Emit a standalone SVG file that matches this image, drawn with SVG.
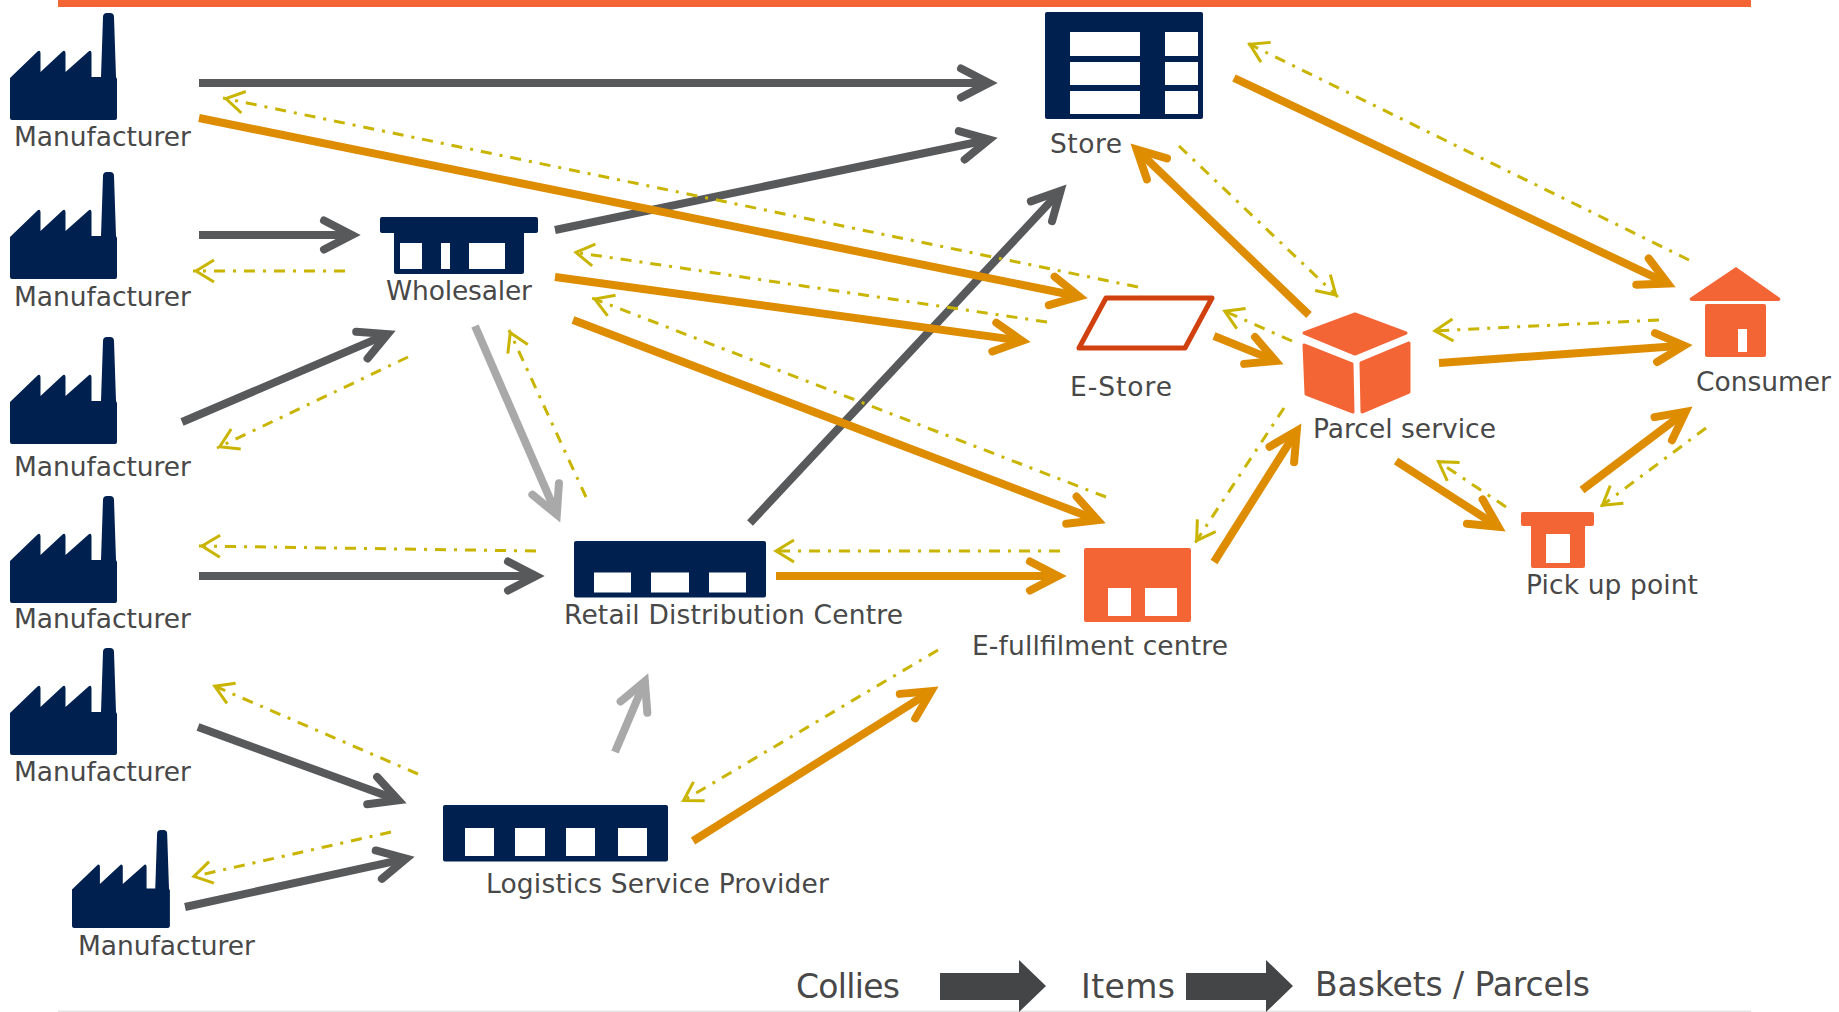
<svg xmlns="http://www.w3.org/2000/svg" width="1839" height="1012" viewBox="0 0 1839 1012">
<style>
text{font-family:"DejaVu Sans",Verdana,sans-serif;font-size:26.500px;fill:#484848}
.big{font-size:33px}
.navy{fill:#002050}.org{fill:#F46536}.w{fill:#fff}
.d,.o,.l,.y{fill:none}
.d{stroke:#58595B;stroke-width:8;marker-end:url(#hd)}
.o{stroke:#DE8C00;stroke-width:8;marker-end:url(#ho)}
.l{stroke:#A9A9A9;stroke-width:8;marker-end:url(#hl)}
.y{stroke:#C9B400;stroke-width:3;stroke-dasharray:11 8 3 8;marker-end:url(#hy)}
</style>
<defs>
<marker id="hd" markerUnits="userSpaceOnUse" markerWidth="44" markerHeight="44" refX="30" refY="22" orient="auto" overflow="visible"><path d="M4 7.500L32 22L4 36.500" fill="none" stroke="#58595B" stroke-width="8" stroke-linecap="round" stroke-miterlimit="10"/></marker>
<marker id="ho" markerUnits="userSpaceOnUse" markerWidth="44" markerHeight="44" refX="30" refY="22" orient="auto" overflow="visible"><path d="M4 7.500L32 22L4 36.500" fill="none" stroke="#DE8C00" stroke-width="8" stroke-linecap="round" stroke-miterlimit="10"/></marker>
<marker id="hl" markerUnits="userSpaceOnUse" markerWidth="44" markerHeight="44" refX="30" refY="22" orient="auto" overflow="visible"><path d="M4 7.500L32 22L4 36.500" fill="none" stroke="#A9A9A9" stroke-width="8" stroke-linecap="round" stroke-miterlimit="10"/></marker>
<marker id="hy" markerUnits="userSpaceOnUse" markerWidth="28" markerHeight="28" refX="25" refY="14" orient="auto" overflow="visible"><path d="M4 3L22 14L4 25" fill="none" stroke="#C9B400" stroke-width="3"/></marker>
<path id="factory" d="M0 107V65L27 39Q30 36 30.500 40V59L52 39Q55 36 55.500 40V59L78 39Q81 36 81.500 40V64H91L93 4Q93 0 97 0H100Q104 0 104 4L106 64L107 66V105Q107 107 105 107H2Q0 107 0 105Z"/>
</defs>
<g id="frame"><rect x="58" y="0" width="1693" height="7" class="org"/><rect x="58" y="1010.500" width="1693" height="1.500" fill="#E4E4E4"/></g>
<g id="connectors">
<path class="d" d="M199 83H987"/>
<path class="d" d="M199 235H350"/>
<path class="d" d="M182 422L385.800 334.900"/>
<path class="d" d="M199 576H534"/>
<path class="d" d="M198 727L396.600 799.600"/>
<path class="d" d="M185 907L404.200 859.100"/>
<path class="d" d="M555 230L987.200 140"/>
<path class="d" d="M750 523L1059.200 192.300"/>
<path class="l" d="M475 326L556 512.800"/>
<path class="l" d="M615 752L644.100 683.200"/>
<path class="o" d="M199 118L1077.200 296"/>
<path class="o" d="M555 277L1020.100 340.600"/>
<path class="o" d="M573 320L1095.700 519.400"/>
<path class="o" d="M776 576H1056"/>
<path class="o" d="M693 841L929.500 692.300"/>
<path class="o" d="M1214 562L1295.700 432.500"/>
<path class="o" d="M1214 336L1273.700 360.200"/>
<path class="o" d="M1309 315L1138.200 150.900"/>
<path class="o" d="M1234 78L1666 282.700"/>
<path class="o" d="M1439 363L1682 345.700"/>
<path class="o" d="M1396 461L1496.600 525.600"/>
<path class="o" d="M1582 490L1684 413"/>
<path class="y" d="M1138 287L223 98"/>
<path class="y" d="M345 271H193"/>
<path class="y" d="M408 357L217 448"/>
<path class="y" d="M536 551L199 546"/>
<path class="y" d="M418 774L212 685"/>
<path class="y" d="M391 832L191 877"/>
<path class="y" d="M1047 322L573 252"/>
<path class="y" d="M1106 497L592 298"/>
<path class="y" d="M586 497L509 330"/>
<path class="y" d="M1060 551H773"/>
<path class="y" d="M938 650L681 802"/>
<path class="y" d="M1284 408L1195 543"/>
<path class="y" d="M1292 341L1222 310"/>
<path class="y" d="M1179 146L1338 297"/>
<path class="y" d="M1689 260L1247 43"/>
<path class="y" d="M1659 320L1432 331"/>
<path class="y" d="M1706 428L1600 507"/>
<path class="y" d="M1506 507L1436 460"/>
</g>
<g id="m1"><use href="#factory" x="10" y="13" class="navy"/><text x="14" y="146" textLength="177">Manufacturer</text></g>
<g id="m2"><use href="#factory" x="10" y="172" class="navy"/><text x="14" y="306" textLength="177">Manufacturer</text></g>
<g id="m3"><use href="#factory" x="10" y="337" class="navy"/><text x="14" y="476" textLength="177">Manufacturer</text></g>
<g id="m4"><use href="#factory" x="10" y="496" class="navy"/><text x="14" y="628" textLength="177">Manufacturer</text></g>
<g id="m5"><use href="#factory" x="10" y="648" class="navy"/><text x="14" y="781" textLength="177">Manufacturer</text></g>
<g id="m6"><use href="#factory" transform="translate(72 830) scale(.915)" class="navy"/><text x="78" y="955" textLength="177">Manufacturer</text></g>
<g id="wholesaler"><rect x="380" y="217" width="158" height="16" rx="2" class="navy"/><rect x="394" y="225" width="130" height="49" rx="2" class="navy"/><rect x="400" y="243" width="22" height="26" class="w"/><rect x="441" y="243" width="9" height="26" class="w"/><rect x="469" y="243" width="36" height="26" class="w"/><text x="386" y="300" textLength="146">Wholesaler</text></g>
<g id="store"><rect x="1045" y="12" width="158" height="107" rx="2" class="navy"/><g class="w"><rect x="1070" y="32" width="70" height="24"/><rect x="1165" y="32" width="33" height="24"/><rect x="1070" y="62" width="70" height="23"/><rect x="1165" y="62" width="33" height="23"/><rect x="1070" y="91" width="70" height="23"/><rect x="1165" y="91" width="33" height="23"/></g><text x="1050" y="153" textLength="72">Store</text></g>
<g id="estore"><path d="M1106 298H1212L1185 348H1079Z" fill="#fff" stroke="#D0410F" stroke-width="5" stroke-linejoin="round"/><text x="1070" y="396" textLength="102">E-Store</text></g>
<g id="parcel"><g class="org" stroke="#F46536" stroke-width="3" stroke-linejoin="round"><path d="M1355 314L1406 333L1355 354L1304 333Z"/><path d="M1304 345L1352 364L1353 412L1306 394Z"/><path d="M1409 343L1361 363L1362 412L1409 392Z"/></g><text x="1313" y="438" textLength="183">Parcel service</text></g>
<g id="consumer"><path d="M1736 267L1780 298Q1781 301 1778 301H1692Q1689 301 1690 298Z" class="org"/><rect x="1705" y="304" width="61" height="53" rx="2" class="org"/><rect x="1738" y="329" width="9" height="23" class="w"/><text x="1696" y="391" textLength="135">Consumer</text></g>
<g id="pickup"><rect x="1521" y="512" width="73" height="14" rx="2" class="org"/><rect x="1531" y="520" width="54" height="48" rx="2" class="org"/><rect x="1546" y="534" width="24" height="29" class="w"/><text x="1526" y="594" textLength="172">Pick up point</text></g>
<g id="retail"><rect x="574" y="541" width="192" height="56.500" rx="2" class="navy"/><rect x="594" y="572.500" width="37" height="20" class="w"/><rect x="651" y="572.500" width="38" height="20" class="w"/><rect x="709" y="572.500" width="37" height="20" class="w"/><text x="564" y="624" textLength="339">Retail Distribution Centre</text></g>
<g id="efulfil"><rect x="1084" y="548" width="107" height="74" rx="2" class="org"/><rect x="1108" y="588" width="23" height="28" class="w"/><rect x="1145" y="588" width="32" height="28" class="w"/><text x="972" y="655" textLength="256">E-fullfilment centre</text></g>
<g id="lsp"><rect x="443" y="805" width="225" height="56.500" rx="2" class="navy"/><rect x="465" y="828" width="29" height="28" class="w"/><rect x="515" y="828" width="30" height="28" class="w"/><rect x="566" y="828" width="29" height="28" class="w"/><rect x="618" y="828" width="29" height="28" class="w"/><text x="486" y="893" textLength="343">Logistics Service Provider</text></g>
<g id="legend"><text class="big" x="796" y="998" textLength="104">Collies</text><path d="M940 973H1019V960L1046 986L1019 1012V1000H940Z" fill="#444547"/><text class="big" x="1081" y="998" textLength="94">Items</text><path d="M1186 973H1266V960L1293 986L1266 1012V1000H1186Z" fill="#444547"/><text class="big" x="1315" y="996" textLength="275">Baskets / Parcels</text></g>
</svg>
